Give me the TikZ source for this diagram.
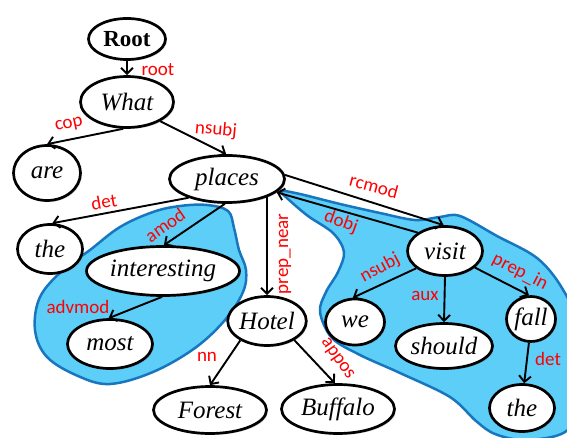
\documentclass[tikz,border=0pt]{standalone}
\usepackage{fontspec}
\setmainfont{Liberation Serif}
\newfontfamily\lblfont{Carlito}
\usetikzlibrary{shapes.geometric,arrows.meta,shadows}
\definecolor{regfill}{RGB}{92,206,248}
\definecolor{regline}{RGB}{24,118,190}
\definecolor{lblred}{RGB}{255,0,0}
\tikzset{
 word/.style={ellipse,draw=black,line width=2.7pt,fill=white,inner sep=0pt,
   font=\fontsize{25}{25}\selectfont\itshape,
   drop shadow={shadow xshift=1.5pt,shadow yshift=-1.5pt,opacity=0.3}},
 dep/.style={line width=1.9pt,-{Straight Barb[length=6pt,width=12pt]}},
 lbl/.style={text=lblred,font=\lblfont\fontsize{19}{19}\selectfont,inner sep=0pt},
 region/.style={fill=regfill,draw=regline,line width=2.5pt}
}
\begin{document}
\begin{tikzpicture}[x=1pt,y=-1pt]
\useasboundingbox (0,0) rectangle (567,438);
% regions
\draw[region] plot[smooth cycle,tension=0.6] coordinates {
 (153,212) (180,206) (207,205) (228,211) (234,228) (239,250) (246,270) (243,292)
 (225,320) (195,348) (153,372) (110,384) (78,376) (47,357) (35,330) (40,297)
 (63,270) (90,250) (120,227)};
\draw[region] plot[smooth cycle,tension=0.55] coordinates {
 (281,191) (300,194) (340,204) (380,213) (415,220) (440,217) (460,216) (497,236)
 (537,258) (562,288) (580,330) (584,400) (565,432) (525,440) (495,434) (476,421)
 (450,397) (400,373) (360,355) (332,338) (320,312) (326,292) (338,272) (344,252)
 (333,233) (308,216) (288,199)};
% nodes
\node[word,minimum width=77pt,minimum height=41pt] (root) at (127,39) {\upshape\bfseries\fontsize{23}{23}\selectfont Root};
\node[word,minimum width=93pt,minimum height=51pt] (what) at (127,102) {What};
\node[word,minimum width=67pt,minimum height=55pt] (are) at (47,173) {are};
\node[word,minimum width=115pt,minimum height=47pt] (places) at (227,179) {places};
\node[word,minimum width=65pt,minimum height=49pt] (theL) at (50,249) {the};
\node[word,minimum width=153pt,minimum height=49pt] (interesting) at (163,271) {interesting};
\node[word,minimum width=85pt,minimum height=49pt] (most) at (110,344) {most};
\node[word,minimum width=77pt,minimum height=49pt] (hotel) at (267,321) {Hotel};
\node[word,minimum width=113pt,minimum height=47pt] (forest) at (210,410) {Forest};
\node[word,minimum width=113pt,minimum height=49pt] (buffalo) at (338,409) {Buffalo};
\node[word,minimum width=75pt,minimum height=49pt] (visit) at (445,251) {visit};
\node[word,minimum width=59pt,minimum height=46pt] (we) at (355,322) {we};
\node[word,minimum width=97pt,minimum height=45pt] (should) at (444,346) {should};
\node[word,minimum width=49pt,minimum height=45pt] (fall) at (531,319) {fall};
\node[word,minimum width=65pt,minimum height=47pt] (theR) at (522,408) {the};
% edges
\draw[dep] (root) -- (what);
\draw[dep] (what.262) -- (are.north);
\draw[dep] (what.330) -- (places.92);
\draw[dep] (places.206) -- (theL.85);
\draw[dep] (places.265) -- (interesting.88);
\draw[dep] (places.335 -| hotel.north) -- (hotel.north);
\draw[dep] (places.4) -- (visit.93);
\draw[dep] (visit.146) -- (places.345);
\draw[dep] (interesting.268) -- (most.93);
\draw[dep] (hotel.216) -- (forest.north);
\draw[dep] (hotel.325) -- (buffalo.97);
\draw[dep] (visit.211) -- (we.95);
\draw[dep] (visit.south) -- (should.north);
\draw[dep] (visit.331) -- (fall.95);
\draw[dep] (fall.265) -- (theR.85);
% labels
\node[lbl] (l-root) at (158,70) {root};
\node[lbl,rotate=12] (l-cop) at (69,125) {cop};
\node[lbl,rotate=-5] (l-nsubj1) at (216,130) {nsubj};
\node[lbl,rotate=10] (l-det1) at (104,202) {det};
\node[lbl,rotate=35] (l-amod) at (165,225) {amod};
\node[lbl] (l-advmod) at (78,307) {advmod};
\node[lbl,rotate=90] (l-prepnear) at (285,254) {prep\_near};
\node[lbl,rotate=-15] (l-rcmod) at (374,186) {rcmod};
\node[lbl,rotate=-20] (l-dobj) at (341,222) {dobj};
\node[lbl,rotate=28] (l-nsubj2) at (380,268) {nsubj};
\node[lbl] (l-aux) at (425,296) {aux};
\node[lbl,rotate=-27] (l-prepin) at (520,272) {prep\_in};
\node[lbl] (l-det2) at (548,359) {det};
\node[lbl] (l-nn) at (207,357) {nn};
\node[lbl,rotate=-55] (l-appos) at (337,359) {appos};
\end{tikzpicture}
\end{document}
